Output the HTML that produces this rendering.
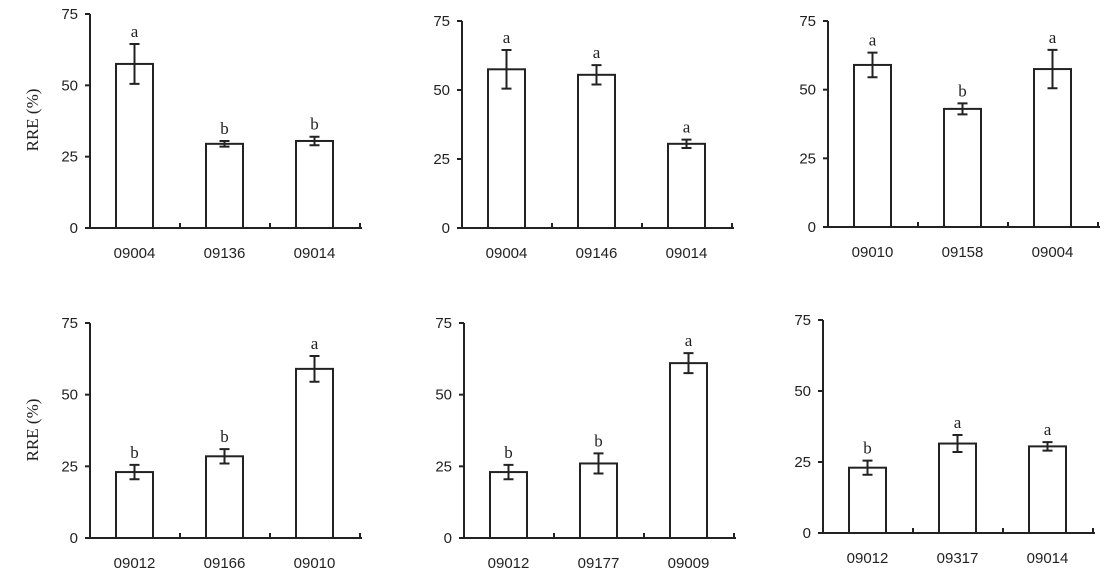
<!DOCTYPE html>
<html><head><meta charset="utf-8"><style>
html,body{margin:0;padding:0;background:#fff;}
svg{display:block;}
.t{font-family:"Liberation Sans",sans-serif;font-size:15px;fill:#222;}
.l{font-family:"Liberation Serif",serif;font-size:17px;fill:#222;}
</style></head><body>
<svg id="c" width="1111" height="577" viewBox="0 0 1111 577" xmlns="http://www.w3.org/2000/svg">
<text class="l" transform="translate(38,120) rotate(-90)" text-anchor="middle">RRE (%)</text>
<text class="l" transform="translate(38,430) rotate(-90)" text-anchor="middle">RRE (%)</text>
</svg>
<script>
const categories1=["09004","09136","09014"],values1=[57.5,29.5,30.5],errors1=[7,1,1.5],letters1=["a","b","b"];
const categories2=["09004","09146","09014"],values2=[57.5,55.5,30.5],errors2=[7,3.5,1.5],letters2=["a","a","a"];
const categories3=["09010","09158","09004"],values3=[59,43,57.5],errors3=[4.5,2,7],letters3=["a","b","a"];
const categories4=["09012","09166","09010"],values4=[23,28.5,59],errors4=[2.5,2.5,4.5],letters4=["b","b","a"];
const categories5=["09012","09177","09009"],values5=[23,26,61],errors5=[2.5,3.5,3.5],letters5=["b","b","a"];
const categories6=["09012","09317","09014"],values6=[23,31.5,30.5],errors6=[2.5,3,1.5],letters6=["b","a","a"];
const yTicks=[0,25,50,75];
const panels=[
 {x0:90,top:14,bot:228,cats:categories1,vals:values1,errs:errors1,lets:letters1},
 {x0:462,top:21,bot:228,cats:categories2,vals:values2,errs:errors2,lets:letters2},
 {x0:828,top:21,bot:227,cats:categories3,vals:values3,errs:errors3,lets:letters3},
 {x0:90,top:323,bot:538,cats:categories4,vals:values4,errs:errors4,lets:letters4},
 {x0:464,top:323,bot:538,cats:categories5,vals:values5,errs:errors5,lets:letters5},
 {x0:823,top:320,bot:533,cats:categories6,vals:values6,errs:errors6,lets:letters6}
];
const NS="http://www.w3.org/2000/svg",svg=document.getElementById('c');
function mk(tag,a,parent){const e=document.createElementNS(NS,tag);for(const k in a)e.setAttribute(k,a[k]);(parent||svg).appendChild(e);return e;}
panels.forEach((p,pi)=>{
 const g=mk('g',{});
 
 
 const catW=90,W=catW*p.cats.length;
 const y=v=>p.bot-(v/75)*(p.bot-p.top);
 const ax=mk('path',{d:`M${p.x0} ${p.top}V${p.bot}H${p.x0+W+2}`,fill:'none',stroke:'#222','stroke-width':2},g);
 
 
 yTicks.forEach(t=>{
  const tk=mk('line',{x1:p.x0-5,x2:p.x0,y1:y(t),y2:y(t),stroke:'#222','stroke-width':2},g);
  
  
  const tl=mk('text',{x:p.x0-12,y:y(t)+5,'text-anchor':'end',class:'t'},g);
  tl.textContent=t;
  
  
 });
 for(let i=1;i<=p.cats.length;i++){
  const xt=mk('line',{x1:p.x0+i*catW,x2:p.x0+i*catW,y1:p.bot-5,y2:p.bot,stroke:'#222','stroke-width':2},g);
  
  
 }
 p.cats.forEach((c,i)=>{
  const bx=p.x0+i*catW+26,cx=bx+18.5;
  const b=mk('rect',{x:bx,y:y(p.vals[i]),width:37,height:p.bot-y(p.vals[i]),fill:'#fff',stroke:'#222','stroke-width':2},g);
  
  
  const hi=y(p.vals[i]+p.errs[i]),lo=y(p.vals[i]-p.errs[i]);
  const e=mk('path',{d:`M${cx} ${hi}V${lo}M${cx-5} ${hi}H${cx+5}M${cx-5} ${lo}H${cx+5}`,stroke:'#222','stroke-width':2,fill:'none'},g);
  
  
  const lt=mk('text',{x:cx,y:hi-7,'text-anchor':'middle',class:'l'},g);
  lt.textContent=p.lets[i];
  
  
  const cl=mk('text',{x:cx,y:p.bot+30,'text-anchor':'middle',class:'t'},g);
  cl.textContent=c;
  
  
 });
});
</script>
</body></html>
